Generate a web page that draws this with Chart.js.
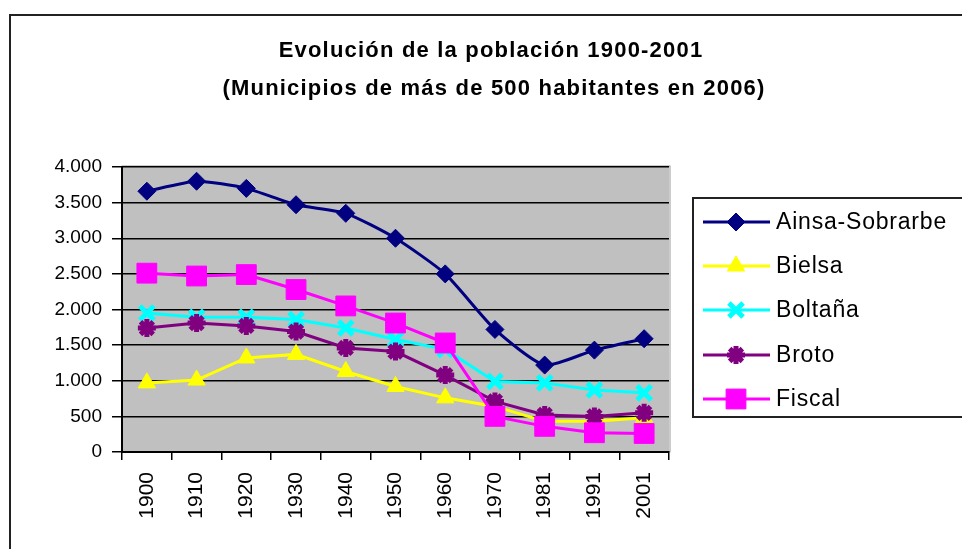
<!DOCTYPE html>
<html lang="es">
<head>
<meta charset="UTF-8">
<title>Evolución de la población 1900-2001</title>
<script src="https://cdn.jsdelivr.net/npm/chart.js"></script>
<style>
    html, body { margin: 0; padding: 0; background: #fff; }
    #caja { width: 962px; height: 549px; }
</style>
</head>
<body>
<div id="caja">
    <canvas id="grafico" width="962" height="549"></canvas>
</div>

<script>
    // datos
    var anos = ['1900', '1910', '1920', '1930', '1940', '1950', '1960', '1970', '1981', '1991', '2001'];
    var ainsa = [3660, 3800, 3700, 3470, 3350, 3000, 2500, 1720, 1220, 1430, 1590];
    var bielsa = [970, 1010, 1320, 1370, 1130, 920, 760, 640, 430, 430, 480];
    var boltana = [1950, 1890, 1890, 1860, 1740, 1580, 1440, 990, 970, 870, 830];
    var broto = [1740, 1810, 1770, 1690, 1460, 1410, 1080, 710, 520, 500, 550];
    var fiscal = [2510, 2470, 2490, 2280, 2050, 1810, 1530, 500, 360, 270, 260];

    var nombres = ['Ainsa-Sobrarbe', 'Bielsa', 'Boltaña', 'Broto', 'Fiscal'];
    var titulo = ['Evolución de la población 1900-2001', '(Municipios de más de 500 habitantes en 2006)'];

    var fuente = '"Liberation Sans", Arial, sans-serif';

    function serie(nombre, datos, color, estilo, radio, borde, orden) {
        return {
            label: nombre,
            data: datos,
            borderColor: color,
            backgroundColor: color,
            borderWidth: 3,
            pointStyle: estilo,
            pointRadius: radio,
            pointBorderWidth: borde,
            pointBackgroundColor: color,
            pointBorderColor: color,
            tension: 0,
            order: orden
        };
    }

    var datasets = [
        serie(nombres[0], ainsa, '#000080', 'rectRot', 9, 1, 5),
        serie(nombres[1], bielsa, '#FFFF00', 'triangle', 10, 1, 4),
        serie(nombres[2], boltana, '#00FFFF', 'crossRot', 10, 5, 3),
        serie(nombres[3], broto, '#800080', 'star', 9, 5, 2),
        serie(nombres[4], fiscal, '#FF00FF', 'rect', 14, 1, 1)
    ];
    datasets[0].tension = 0.2;

    function miles(v) {
        return String(v).replace(/\B(?=(\d{3})+(?!\d))/g, '.');
    }

    // marco, fondo gris, titulo y leyenda
    var marco = {
        id: 'marco',
        beforeDraw: function (chart) {
            var ctx = chart.ctx;
            var a = chart.chartArea;
            ctx.save();
            ctx.fillStyle = '#fff';
            ctx.fillRect(0, 0, chart.width, chart.height);
            ctx.strokeStyle = '#222';
            ctx.lineWidth = 2;
            ctx.strokeRect(10, 15, chart.width + 20, chart.height + 20);
            ctx.fillStyle = '#C0C0C0';
            ctx.fillRect(a.left, a.top, a.right - a.left, a.bottom - a.top);
            ctx.strokeStyle = '#9a9a9a';
            ctx.lineWidth = 1;
            ctx.strokeRect(a.left, a.top - 1, a.right - a.left + 1, a.bottom - a.top + 1);
            ctx.restore();
        },
        afterDraw: function (chart) {
            var ctx = chart.ctx;
            ctx.save();
            ctx.fillStyle = '#000';
            ctx.textAlign = 'center';
            ctx.textBaseline = 'middle';
            ctx.font = 'bold 22px ' + fuente;
            ctx.letterSpacing = '1.2px';
            ctx.fillText(titulo[0], 491, 51);
            ctx.fillText(titulo[1], 494, 89);

            // leyenda
            ctx.strokeStyle = '#222';
            ctx.lineWidth = 2;
            ctx.strokeRect(693, 198, 300, 219);
            ctx.font = '23px ' + fuente;
            ctx.letterSpacing = '0.8px';
            ctx.textAlign = 'left';
            var filas = [222, 266, 310, 355, 399];
            for (var i = 0; i < datasets.length; i++) {
                var d = datasets[i];
                var y = filas[i];
                ctx.strokeStyle = d.borderColor;
                ctx.fillStyle = d.borderColor;
                ctx.lineWidth = 3;
                ctx.beginPath();
                ctx.moveTo(703, y);
                ctx.lineTo(770, y);
                ctx.stroke();
                ctx.lineWidth = d.pointBorderWidth;
                Chart.helpers.drawPoint(ctx, {
                    pointStyle: d.pointStyle,
                    radius: d.pointRadius,
                    rotation: 0,
                    borderWidth: d.pointBorderWidth
                }, 736, y);
                ctx.fillStyle = '#000';
                ctx.fillText(d.label, 776, y + 1);
            }
            ctx.restore();
        }
    };

    new Chart(document.getElementById('grafico'), {
        type: 'line',
        data: { labels: anos, datasets: datasets },
        plugins: [marco],
        options: {
            responsive: false,
            animation: false,
            layout: { padding: { left: 0, right: 293, top: 167, bottom: 0 } },
            plugins: {
                legend: { display: false },
                title: { display: false },
                tooltip: { enabled: false }
            },
            scales: {
                x: {
                    offset: true,
                    afterFit: function (s) { s.height = 97; },
                    grid: { offset: true, drawOnChartArea: false, color: '#000', tickLength: 8, lineWidth: 1.5 },
                    border: { color: '#000', width: 2 },
                    ticks: {
                        color: '#000',
                        autoSkip: false,
                        minRotation: 90,
                        maxRotation: 90,
                        padding: 12,
                        font: { family: fuente, size: 21 }
                    }
                },
                y: {
                    min: 0,
                    max: 4000,
                    afterFit: function (s) { s.width = 122; },
                    grid: { color: '#000', lineWidth: 1.5, tickLength: 10 },
                    border: { color: '#000', width: 2 },
                    ticks: {
                        stepSize: 500,
                        color: '#000',
                        padding: 10,
                        font: { family: fuente, size: 19 },
                        callback: function (v) { return miles(v); }
                    }
                }
            }
        }
    });
</script>
</body>
</html>
